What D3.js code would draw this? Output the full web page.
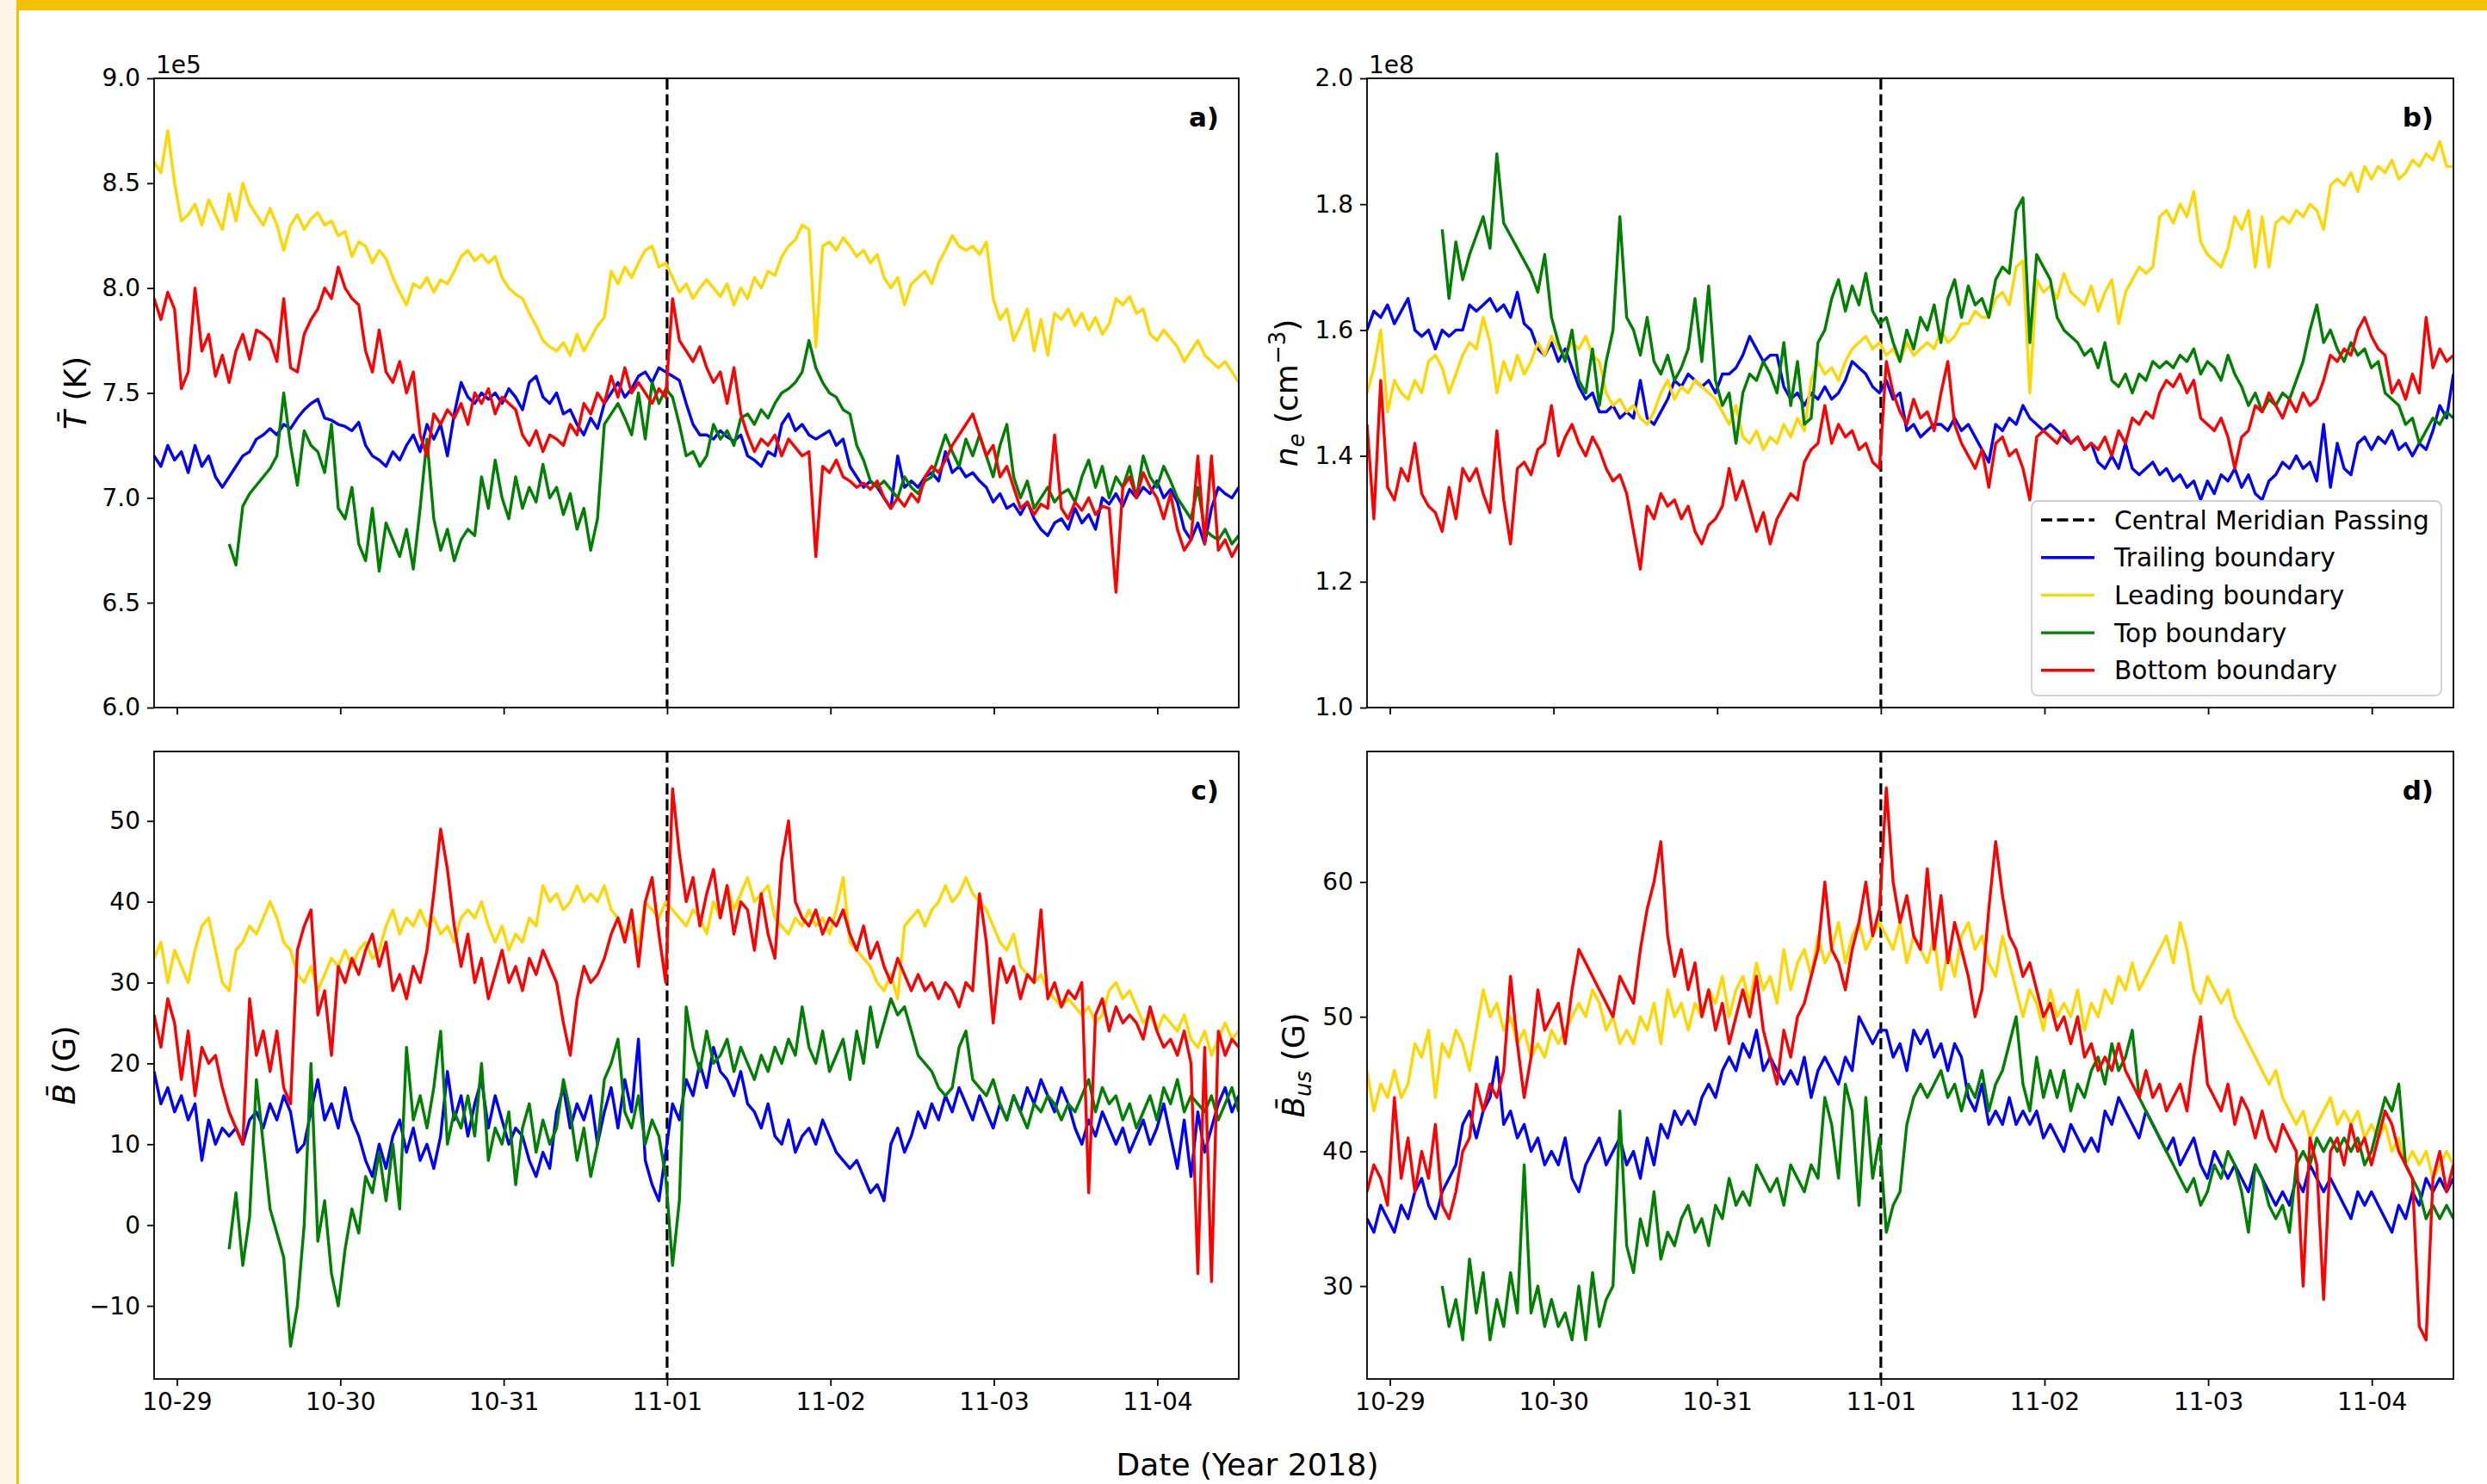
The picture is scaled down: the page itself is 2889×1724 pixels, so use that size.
<!DOCTYPE html>
<html>
<head>
<meta charset="utf-8">
<script src="https://cdn.jsdelivr.net/npm/d3@7"></script>
<style>
  body { margin: 0; background: #fff; }
  svg { display: block; font-family: "DejaVu Sans", sans-serif; }
</style>
</head>
<body>
<svg id="chart" width="2889" height="1724"></svg>
<script>
// sampling grid (hourly cadence, 10-28 20:39 -> 11-04 11:58 UTC)
const sampleStart = Date.UTC(2018, 9, 28, 20, 39);
const sampleEnd = Date.UTC(2018, 10, 4, 11, 58);
const sampleCount = 160;
const cmpDate = Date.UTC(2018, 10, 1); // central meridian passing

const seriesNames = ["Trailing boundary", "Leading boundary", "Top boundary", "Bottom boundary"];
const seriesColors = ["#0000ff", "#ffd700", "#008000", "#ff0000"];

// a) mean temperature, units of 1e5 K
const tempTicks = [6.0, 6.5, 7.0, 7.5, 8.0, 8.5, 9.0];
const tempTrail = [7.2,7.15,7.25,7.18, 7.22,7.12,7.25, 7.15,7.2,7.1,7.05, 7.1,7.15,7.2,7.22, 7.28,7.3,7.33,
  7.3,7.35,7.33,7.38,7.42,7.45,7.47, 7.38,7.37,7.35, 7.34,7.32,7.36, 7.25,7.2,7.18,7.15, 7.22,7.18,7.25,
  7.3,7.22,7.35, 7.28,7.35,7.2,7.4, 7.55,7.48,7.45,7.5,7.47, 7.5,7.45,7.52,7.48,7.42,7.55, 7.58,7.48,7.45,
  7.5,7.4,7.42,7.35, 7.3,7.38,7.33, 7.45,7.5,7.55,7.48,7.52, 7.58,7.6,7.55,7.62,7.6,7.58,7.56, 7.45,7.35,7.3,
  7.3,7.28,7.32,7.29,7.27,7.3, 7.2,7.18,7.15,7.22,7.2, 7.35,7.4,7.32,7.35,7.3,7.28, 7.3,7.32,7.25,7.28,
  7.15,7.1,7.05,7.08,7.05, 7.0,6.95,7.2,7.05,7.08, 7.05,7.1,7.12,7.08,7.22, 7.12,7.15,7.1,7.12,7.08,
  7.05,6.98,7.02,6.95, 6.97,6.92,6.98,6.9, 6.85,6.82,6.88, 6.9,6.85,6.95,6.88,6.92,6.85, 7.0,6.97,7.02,6.96,7.04,7.0,
  7.05,7.02,7.08,7.0,7.04,6.98, 6.85,6.8,6.88,6.78, 6.95,7.05,7.02,7.0,7.05];
const tempLead = [8.6,8.55,8.75,8.5, 8.32, 8.35,8.4,8.3,8.42,8.35,8.28, 8.45,8.32,8.5,8.4, 8.35,8.3,8.38,8.3,8.18,
  8.3,8.35,8.28,8.33,8.36,8.3,8.32, 8.25,8.27,8.15,8.22, 8.2,8.12,8.18,8.14, 8.05,7.98,7.92,8.02,
  8.0,8.05,7.98,8.04,8.02,8.08, 8.15,8.18,8.13,8.16,8.12,8.15, 8.05,8.0,7.97,7.95, 7.88,7.82,7.75,7.72,
  7.7,7.74,7.68,7.78,7.7,7.76,7.82,7.86, 8.08,8.02,8.1,8.05,8.12, 8.18,8.2,8.1,8.12, 8.05,7.98,8.02,7.95,8.0,8.04,
  8.0,7.96,8.02,7.92,8.0,7.95, 8.05,8.0,8.08,8.06,8.15,8.2,8.23,8.3, 8.28, 7.72, 8.2,8.22,8.18,8.24,8.2,
  8.15,8.18,8.12,8.16,8.05, 8.0,8.05,7.92,8.02,8.05, 8.08,8.02,8.12,8.18, 8.25,8.2,8.18,8.2,8.16,8.22,
  7.95,7.85,7.9,7.75,7.82, 7.9,7.7,7.85,7.68,7.88, 7.85,7.9,7.82,7.88,7.8,7.86,7.78,7.83, 7.95,7.92,7.96,7.88,7.9,
  7.78,7.75,7.8,7.76,7.72, 7.65,7.7,7.75,7.68,7.65, 7.62,7.65,7.6,7.55];
const tempTop = [null,null,null,null,null,null,null,null,null,null,null,
  6.78,6.68,6.96,7.02, 7.06,7.1,7.14,7.2, 7.5, 7.25,7.06, 7.32,7.25,7.22, 7.12,7.35, 6.95,6.9, 7.05,6.78,
  6.7,6.95,6.65,6.88, 6.8,6.72,6.85,6.66, 6.95,7.28, 6.9,6.75,6.85,6.7, 6.8,6.85,6.82, 7.1,6.95,7.18,
  7.0,6.9,7.1,6.95,7.05,6.98, 7.16,7.0,7.05,6.92, 7.02,6.85,6.95,6.75, 6.9, 7.35,7.4,7.45,7.38,
  7.3,7.5,7.28,7.55,7.45, 7.52,7.48,7.35,7.2, 7.22,7.15,7.2, 7.35,7.28,7.32,7.25,7.38, 7.4,7.35,7.42,7.38,7.45,
  7.5,7.52,7.55,7.6, 7.75, 7.62,7.55,7.5, 7.48,7.42,7.4, 7.25,7.18,7.08, 7.05,7.08,7.04,7.0,7.1,
  7.05,7.02,7.08,7.1, 7.2,7.3,7.22,7.15,7.28,7.2, 7.3,7.2,7.1,7.25,7.35, 7.1,7.0,7.08,6.95,
  7.0,7.05,6.98,7.02,7.04,6.98, 7.1,7.18,7.05,7.15, 7.0,7.1,7.05,7.15,7.0, 7.2,7.1,7.05,7.15,7.08,7.0,
  6.95,6.9,7.05,6.85, 6.82,6.8,6.85,6.78,6.82];
const tempBottom = [7.95,7.85,7.98,7.9, 7.52, 7.6, 8.0, 7.7,7.78,7.58,7.68, 7.55,7.7,7.78,7.66, 7.8,7.78,7.75,
  7.65,7.95,7.62,7.6, 7.78,7.85,7.9, 8.0,7.95,8.1, 8.0,7.95,7.92, 7.7,7.6,7.8, 7.6,7.55,7.65,7.5,7.6, 7.3,7.2,
  7.4,7.35,7.42,7.38,7.45,7.35, 7.5,7.45,7.52,7.4,7.48,7.45,7.42, 7.3,7.25,7.32,7.22,7.3,7.28,7.25,
  7.35,7.3,7.45,7.4, 7.5,7.45,7.58,7.48,7.62,7.5, 7.55,7.5,7.45,7.52, 7.48, 7.95, 7.75,7.7,7.65,7.72,7.62,
  7.55,7.6,7.45,7.62, 7.4,7.3,7.22,7.28, 7.25,7.3,7.2,7.28,7.24,7.2, 7.22, 6.72, 7.15,7.12,7.18,7.1,7.08,
  7.05,7.07,7.04,7.08,7.0, 6.95,7.0,6.96,7.02,6.98, 7.1,7.15,7.12,7.18, 7.25,7.3,7.35,7.4, 7.3,7.2,7.25,7.1,7.15,
  7.05,6.95,6.98,6.92,6.97, 6.95,7.3,6.95,6.9,6.98, 6.94,7.0,6.92,6.96, 6.95, 6.55, 7.05,7.1,7.0,7.12,7.05,
  7.0,6.9,7.02,6.85, 6.75,6.8,7.2, 6.78,7.2,6.75, 6.8,6.72,6.78];

// b) electron density, units of 1e8 cm^-3
const densTicks = [1.0, 1.2, 1.4, 1.6, 1.8, 2.0];
const densTrail = [1.6,1.63,1.62,1.64,1.61,1.63, 1.65,1.6,1.59,1.6, 1.57,1.6,1.59,1.6,1.6, 1.64,1.63,1.64,
  1.65,1.63,1.64,1.62, 1.66,1.61,1.6, 1.57,1.56,1.58,1.55,1.57,1.54, 1.51,1.49,1.5,1.47, 1.47,1.48,1.46,1.47,1.46,1.52,
  1.46,1.45,1.47,1.49, 1.52,1.51,1.53,1.52, 1.51,1.52,1.5,1.53, 1.53,1.54,1.56, 1.59,1.57,1.55,1.56,1.56,
  1.51,1.49,1.5,1.48, 1.5,1.49,1.51,1.49,1.5,1.52, 1.55,1.54,1.53, 1.51,1.5,1.52,1.49,1.5, 1.44,1.45,1.43,1.44,1.45,
  1.45,1.44,1.46,1.44,1.45,1.43, 1.41,1.39, 1.45,1.44,1.46,1.45,1.48,1.46, 1.45,1.44,1.45,1.44,
  1.43,1.42,1.43,1.41,1.42, 1.39,1.38,1.4,1.38,1.42, 1.38,1.37,1.38,1.39,1.37, 1.38,1.36,1.37,1.35,1.36,
  1.33,1.36,1.34,1.37,1.36, 1.38,1.35,1.37,1.34,1.33, 1.36,1.37,1.39,1.38,1.4,1.38,1.39, 1.36,1.45,1.35,1.42,1.38,1.37,
  1.42,1.43,1.41,1.43,1.42,1.44, 1.41,1.42,1.4,1.42,1.41, 1.44,1.48,1.46,1.53];
const densLead = [1.5,1.54,1.6,1.47, 1.52,1.5,1.49,1.52,1.5, 1.55,1.56,1.54, 1.5,1.53, 1.56,1.58,1.57,1.62, 1.58,1.5,
  1.55,1.52,1.56,1.53,1.55, 1.58,1.56,1.59,1.57,1.56,1.58, 1.57,1.59,1.56,1.55, 1.5,1.48,1.49,1.47, 1.48,1.46,1.45,1.47,
  1.5,1.52,1.49,1.51,1.5, 1.52,1.51,1.5,1.49, 1.47,1.45,1.48, 1.43,1.42,1.44,1.41,1.43,1.42, 1.45,1.43,1.46,1.44,
  1.52,1.55,1.53,1.54,1.52,1.55, 1.57,1.58,1.59,1.57, 1.58,1.56,1.57,1.55,1.58,1.56,1.57, 1.58,1.57,1.6,1.58,1.59,1.61,
  1.61,1.63,1.62,1.62, 1.65,1.66,1.64,1.7, 1.71, 1.5, 1.68,1.66,1.67,1.65,1.69, 1.66,1.65,1.64,1.67,1.63,
  1.66,1.68,1.61,1.66, 1.68,1.7,1.69,1.7, 1.78,1.79,1.77,1.8,1.78,1.82, 1.74,1.72,1.71,1.7,1.73, 1.78,1.76,1.79,1.7,1.78,
  1.7,1.77,1.78,1.77,1.79,1.78,1.8,1.79, 1.76,1.83,1.84,1.83,1.85, 1.82,1.86,1.84,1.86,1.85,1.87,1.84,
  1.85,1.87,1.86,1.88,1.87,1.9,1.86,1.86];
const densTop = [null,null,null,null,null,null,null,null,null,null,null,
  1.76,1.65,1.74, 1.68,1.72,1.75, 1.78,1.73,1.88, 1.77,1.75,1.73, 1.71,1.69,1.66, 1.72,1.62,1.58, 1.55,1.6,1.52,
  1.5,1.57,1.48,1.55, 1.6,1.78,1.62, 1.6,1.56,1.62,1.55, 1.53,1.56,1.52,1.54,1.57, 1.65,1.55,1.67, 1.52,1.48,1.5,1.42,
  1.5,1.53,1.52,1.55,1.53,1.5, 1.58,1.48,1.55,1.45, 1.46,1.58,1.6, 1.65,1.68,1.63,1.67,1.64,1.69, 1.63,1.61,1.62,
  1.58,1.55,1.6,1.57, 1.62,1.6,1.64,1.58, 1.65,1.68,1.62,1.67,1.64, 1.65,1.62,1.68, 1.7,1.69,1.79, 1.81, 1.58,
  1.72,1.7,1.68, 1.62,1.6,1.59, 1.58,1.56,1.57,1.54,1.58, 1.52,1.51,1.53,1.5, 1.53,1.52,1.55,1.54,
  1.55,1.54,1.56,1.55,1.57,1.53, 1.55,1.54,1.52,1.56,1.53,1.51, 1.48,1.5,1.47,1.49,1.48,1.5, 1.49,1.52,1.55,1.6,
  1.64,1.58,1.6, 1.57,1.55,1.58,1.56, 1.57,1.54,1.55, 1.5,1.49,1.48,1.45, 1.46,1.42,1.44, 1.46,1.45,1.47,1.46];
const densBottom = [1.45,1.3,1.52,1.35,1.33, 1.38,1.36,1.42, 1.34,1.32,1.31, 1.28,1.35,1.3,1.38, 1.36,1.38,1.34,
  1.31,1.44,1.33,1.26, 1.38,1.39,1.37,1.41, 1.42,1.48,1.4,1.43,1.45, 1.42,1.4,1.43,1.41, 1.38,1.36,1.37,1.34, 1.28,1.22,
  1.32,1.3,1.34,1.32, 1.33,1.3,1.32,1.28, 1.26,1.29,1.3,1.32, 1.38,1.33,1.36,1.32, 1.28,1.31,1.26,1.3,
  1.32,1.34,1.33, 1.39,1.41,1.42, 1.48,1.42,1.45,1.43,1.44, 1.41,1.42,1.39,1.38, 1.55, 1.5,1.47,1.45,1.49,1.46,
  1.47,1.44,1.5,1.55, 1.45,1.42,1.4,1.38,1.41, 1.35,1.42,1.43,1.4,1.41, 1.38,1.33, 1.43,1.44,1.43,1.42,1.44,
  1.42,1.43,1.41,1.42,1.41, 1.43,1.4,1.44,1.42, 1.46,1.45,1.47,1.46, 1.5,1.52,1.51,1.53,1.5,1.52,
  1.46,1.45,1.44,1.46, 1.43,1.38,1.43,1.44, 1.48,1.47,1.5,1.48,1.46, 1.49,1.47,1.5,1.48,1.49,
  1.52,1.56,1.55,1.57,1.56, 1.6,1.62,1.59,1.57,1.56, 1.5,1.52,1.49,1.53, 1.5,1.62,1.54, 1.57,1.55,1.56];

// c) mean field strength, G
const bTicks = [-10, 0, 10, 20, 30, 40, 50];
const bTrail = [19,15,17,14, 16,13,15, 8, 13,10,12,11, 12,10,13, 14,12,15,13,16,14, 9,10, 14,18,13,15,12,17,
  13,11, 8,6,10,7, 11,13,9,12, 8,10,7,11, 19,13,16,11, 15,18,12,16, 13,10,12,11, 8,6,9,7, 14,17,12,15,
  13,16,10,14, 17,12,18,14, 23, 8,5,3,9, 15,13,18,16, 20,17,22,19, 18,16,19,15, 14,12,15,11, 10,13,9,11,
  12,10,13,11, 9,8,7,8, 6,4,5,3, 10,12,9,11, 14,12,15,13, 16,14,17,15,13,16, 14,12,15,13,16,14,
  17,15,18,16,14,17,15, 12,10,13,11,14,12, 10,12,9,11,13,10, 12,15,11,7,13, 6,14,9,12, 15,17,14,16];
const bLead = [33,35,30,34, 32,30,34, 37,38,34, 30,29, 34,35,37,36,38, 40,38, 35,34, 31,30,32,29,
  31,33,32,34,32,34, 35,33,34,37, 39,36,38,37,39,37,38, 36,37,35,38, 39,38,40,37, 35,37,34,36,35,
  38,37,42,40, 41,39,40,42,40, 41,40,42,39, 38,36,37,35, 40,39,38,40, 39,38,37,39,38,36,
  40,38,42,39,41,43,40, 41,42,38, 37,36,38,37, 39,37,38,36,39,43, 35,34,33,32, 30,29,31,28,
  37,38,39,37, 39,40,42,40,41, 43,41,40,39, 37,35,34,36, 32,31,30,31, 29,28,27,28, 27,26,27,25,
  26,29,30,28,29, 27,25,26,24,26, 25,24,26,23, 22,24,21,23, 25,23,24];
const bTop = [null,null,null,null,null,null,null,null,null,null,null,
  -3, 4,-5,1, 18,10,2, -1,-4, -15, -10,0, 20, -2,3,-6, -10,-3, 2,-1, 6,4,9,3, 10,2, 22,13,
  16,12,17,24, 10,14,12,16, 11,20,8,12, 10,14,5, 12,15,9,13, 10,12,18, 14,8,12,6,10, 18,20,23,14,
  12,16,10,13, 11,6, -5, 3, 27, 22,19,24,20, 21,23,19,22,20, 18,21,19,22,20, 23,21,27,
  22,20,24,19,21, 23,18,24,20,27, 22,25,28,26, 27,24,21, 20,19,17,16, 17,22,24, 18,17,16,18,
  15,13,16,14,12,15, 14,16,15,13,15,14, 16,18,14,17,15,16, 13,15,12,14,16,13, 17,15,18,14,16,
  15,14,16,13,15,17,14];
const bBottom = [26,22,28,25, 18,24, 16,22,20, 21,17, 14,12,10, 28, 21,24,19,24, 17,15, 34,37,39, 26,29,21,
  32,30,33,31, 34,36,32,35, 29,31,28,32, 30,34, 41,49, 44,37,32,36, 30,33,28,31, 34,30,32,29,33,
  31,34,32,30, 25,21,28, 32,30,31,33, 36,38,35,39,32, 40,43,36,30, 54, 46,40,43,37,41, 44,38,42,36,40,
  39,34,41,36,33, 45,50,40,38, 37,39,36,38,37, 39,36,34,37, 33,35,32,30, 33,31,29,31,29, 30,28,30,29,27,
  30,29,41, 35,25,33,30, 32,28,31,30, 39,28,30,27,29, 28,30,4, 26,28,24,27,25,26, 25,23,27,24,22,
  23,21,24,20, -6,22, -7, 24,21,23,22];

// d) mean unsigned field strength, G
const busTicks = [30, 40, 50, 60];
const busTrail = [35,34,36,35, 34,36,35, 37,38,36, 35,37,38,39, 42,43,41,43, 44,47, 42,43,41,42,
  40,41,39,40,39,41, 38,37,39, 40,41,39,40,41,39, 40,38,41,39, 42,41,43,42, 43,42,44,45, 44,46,47,46,
  48,47,49, 46,47,46,45, 46,45,47,44,46,47, 46,45,47,46, 50,49,48,49, 49,47,48,46,49,48,
  49,47,48,46,48,47, 44,43,45,42, 43,42,44,42,43,42, 43,41,42,41, 40,42,41,40,41,40, 43,42,44,43,
  42,41,43,42, 41,40,41,39,40,41, 39,38,40,39,38,39, 38,37,39,38, 37,36,37,36, 38,37,39,38,37,38,
  37,36,35,37,36,37, 36,35,34,36,35, 37,36,38,37,38,37,38];
const busLead = [46,43,45,44, 46,44,45, 48,47,49, 44,48, 47,49,48, 46,49,52, 50,51,49,50, 48,49,47,48,
  47,49,48,49,50, 51,50,52,51,49, 50,48,49,48, 50,49,51,48, 52,50,51,49,51, 50,52,51,53,50,52,
  53,51,54,52, 53,51,55,52, 54,55,53,56,54, 55,57,54,56, 57,55,56,57, 56,55,57,54,56,55,
  54,56,52,55,53,56, 57,55,56,54, 53,56,54,52, 50,52,51,49,52,50, 51,50,52,49,51,50, 52,51,53,52,
  54,52,53,54, 55,56,54,57,55, 52,51,53,52,51,52, 50,49,48,47, 46,45,46,44, 43,42,43,41,
  42,43,44,42,43, 42,43,41,42,41, 42,40,41,39,40, 39,40,38,39,40,39];
const busTop = [null,null,null,null,null,null,null,null,null,null,null,
  30,27,29,26, 32,28,31, 26,29,27, 31,28, 39, 28,30,27, 29,27,28,26, 30,26,31,27, 29, 30, 43, 33,
  31,35,33,37, 32,34,33,35, 36,34,35,33, 36,35,38,36, 37,36,39,38, 37,38,36,39, 38,37,39,38,
  44,42,38,45, 43,36,44,38, 41,34, 36,37, 42,44,45,44,45, 46,44,45,43,45, 44,46,43,45, 46,48,50,
  45,43,47,44,46, 44,46,43,45,44,46, 47,45,48,46,47, 49,44,43,42, 41,40,39,38, 37,38,36,37,
  39,38,40,39, 37,34,39,38, 36,35,36,34, 39,40,39,41, 40,41,40,41, 40,41,39,40, 42,44,43,45,
  39,38,37, 35,36,35,36,35];
const busBottom = [37,39,38,36, 44,38,41, 37,40,38, 42,36,35,37, 40,41,45, 43,45,44,46, 53, 48,44,47, 52,49,
  50,51,48,52, 55,54,53, 52,51,50,53,52, 51,55, 58,60,63, 56,53,55,52, 54,50,52, 49,51,48,50,
  52,50,53,49, 47,45,49,47, 50,51,53,55, 60,55,54,52,55, 57,60,56,58, 67, 60,57,59,56,55,
  61,55,59,54,57, 55,53,50,52, 58,63,59,56, 55,53,54,52,50, 51,49,50,48, 50,47,48,46, 47,46,48,46,
  45,44,46,44,45, 43,44,45,43,47, 50,45,44,43,45, 42,44,43,41, 43,41,40,42,41, 40,30, 41,39,29,40,
  41,39,42,40,41, 39,41,43,42, 40,39,38,27, 26,38,40,37,39];

const W = 2889, H = 1724;
const svg = d3.select("#chart");

// page frame (yellow rules + cream margin)
svg.append("rect").attr("x", 0).attr("y", 0).attr("width", 19).attr("height", H).attr("fill", "#fdf6e6");
svg.append("rect").attr("x", 19).attr("y", 0).attr("width", 3).attr("height", H).attr("fill", "#f6c100");
svg.append("rect").attr("x", 22).attr("y", 0).attr("width", W - 22).attr("height", 12).attr("fill", "#f6c100");

const times = d3.range(sampleCount).map(i => new Date(sampleStart + i * (sampleEnd - sampleStart) / (sampleCount - 1)));

const panels = [
  { id: "a", box: { x: 179, y: 91, w: 1260, h: 731 }, series: [tempTrail, tempLead, tempTop, tempBottom],
    yDomain: [6, 9], yTicks: tempTicks, yFmt: d3.format(".1f"), offset: "1e5", xLabels: false, labelX: 100, label: "T" },
  { id: "b", box: { x: 1588, y: 91, w: 1262, h: 731 }, series: [densTrail, densLead, densTop, densBottom],
    yDomain: [1, 2], yTicks: densTicks, yFmt: d3.format(".1f"), offset: "1e8", xLabels: false, labelX: 1507, label: "n", legend: true },
  { id: "c", box: { x: 179, y: 873, w: 1260, h: 729 }, series: [bTrail, bLead, bTop, bBottom],
    yDomain: [-19.05, 58.6], yTicks: bTicks, yFmt: d3.format("d"), xLabels: true, labelX: 87, label: "B" },
  { id: "d", box: { x: 1588, y: 873, w: 1262, h: 729 }, series: [busTrail, busLead, busTop, busBottom],
    yDomain: [23.1, 69.7], yTicks: busTicks, yFmt: d3.format("d"), xLabels: true, labelX: 1515, label: "Bus" }
];

const FS = 28;     // tick labels
const LFS = 36;    // axis labels

function yLabel(g, p) {
  const sub = 26;
  const t = g.append("text")
    .attr("transform", `translate(${p.labelX - p.box.x},${p.box.h / 2}) rotate(-90)`)
    .attr("text-anchor", "middle").attr("font-size", LFS).attr("fill", "#000");
  if (p.label === "T") {
    t.append("tspan").attr("font-style", "italic").text("T\u0304");
    t.append("tspan").text(" (K)");
  } else if (p.label === "n") {
    t.append("tspan").attr("font-style", "italic").text("n");
    t.append("tspan").attr("font-style", "italic").attr("font-size", sub).attr("dy", 8).text("e");
    t.append("tspan").attr("dy", -8).text(" (cm");
    t.append("tspan").attr("font-size", sub).attr("dy", -14).text("\u22123");
    t.append("tspan").attr("dy", 14).text(")");
  } else if (p.label === "B") {
    t.append("tspan").attr("font-style", "italic").text("B\u0304");
    t.append("tspan").text(" (G)");
  } else {
    t.append("tspan").attr("font-style", "italic").text("B\u0304");
    t.append("tspan").attr("font-style", "italic").attr("font-size", sub).attr("dy", 8).text("us");
    t.append("tspan").attr("dy", -8).text(" (G)");
  }
}

function drawPanel(p) {
  const { x, y, w, h } = p.box;
  const g = svg.append("g").attr("transform", `translate(${x},${y})`);
  const xs = d3.scaleUtc().domain([times[0], times[times.length - 1]]).range([0, w]);
  const ys = d3.scaleLinear().domain(p.yDomain).range([h, 0]);

  g.append("clipPath").attr("id", "clip-" + p.id).append("rect").attr("width", w).attr("height", h);
  const plot = g.append("g").attr("clip-path", `url(#clip-${p.id})`);

  // central meridian passing
  plot.append("line")
    .attr("x1", xs(cmpDate)).attr("x2", xs(cmpDate)).attr("y1", 0).attr("y2", h)
    .attr("stroke", "#000").attr("stroke-width", 3.2).attr("stroke-dasharray", "13,5.5");

  const line = d3.line().defined(d => d[1] != null).x(d => xs(d[0])).y(d => ys(d[1]));
  p.series.forEach((vals, k) => {
    plot.append("path")
      .datum(vals.map((v, i) => [times[i], v]))
      .attr("d", line).attr("fill", "none")
      .attr("stroke", seriesColors[k]).attr("stroke-width", 3.4)
      .attr("stroke-linejoin", "round");
  });

  // axes
  const xAxis = d3.axisBottom(xs).ticks(d3.utcDay.every(1))
    .tickFormat(p.xLabels ? d3.utcFormat("%m-%d") : () => "")
    .tickSize(8).tickPadding(8).tickSizeOuter(0);
  const gx = g.append("g").attr("transform", `translate(0,${h})`).call(xAxis);
  const yAxis = d3.axisLeft(ys).tickValues(p.yTicks).tickFormat(p.yFmt).tickSize(8).tickPadding(8).tickSizeOuter(0);
  const gy = g.append("g").call(yAxis);
  [gx, gy].forEach(a => {
    a.select(".domain").remove();
    a.selectAll(".tick line").attr("stroke", "#000").attr("stroke-width", 1.8);
    a.selectAll(".tick text").attr("font-size", FS).attr("fill", "#000").attr("font-family", "DejaVu Sans");
  });

  g.append("rect").attr("width", w).attr("height", h)
    .attr("fill", "none").attr("stroke", "#000").attr("stroke-width", 1.8);

  if (p.offset) {
    g.append("text").attr("x", 2).attr("y", -6).attr("font-size", FS).text(p.offset);
  }

  g.append("text").attr("x", w - 23).attr("y", 56).attr("text-anchor", "end")
    .attr("font-size", 31).attr("font-weight", "bold").text(p.id + ")");

  yLabel(g, p);

  if (p.legend) drawLegend(g, w, h);
}

function drawLegend(g, w, h) {
  const lw = 476, lh = 226;
  const lg = g.append("g").attr("transform", `translate(${w - 14 - lw},${h - 14 - lh})`);
  lg.append("rect").attr("width", lw).attr("height", lh).attr("rx", 7)
    .attr("fill", "#fff").attr("fill-opacity", 0.8).attr("stroke", "#d0d0d0").attr("stroke-width", 1.8);
  const items = [{ name: "Central Meridian Passing", color: "#000", dash: "13,5.5" }]
    .concat(seriesNames.map((n, i) => ({ name: n, color: seriesColors[i], dash: null })));
  items.forEach((it, i) => {
    const cy = 22 + i * 43.7;
    lg.append("line").attr("x1", 11).attr("x2", 73).attr("y1", cy).attr("y2", cy)
      .attr("stroke", it.color).attr("stroke-width", 3.4).attr("stroke-dasharray", it.dash);
    lg.append("text").attr("x", 96).attr("y", cy).attr("dy", "0.36em")
      .attr("font-size", 29.6).text(it.name);
  });
}

panels.forEach(drawPanel);

svg.append("text").attr("x", 1449).attr("y", 1714).attr("text-anchor", "middle")
  .attr("font-size", LFS).text("Date (Year 2018)");
</script>
</body>
</html>
